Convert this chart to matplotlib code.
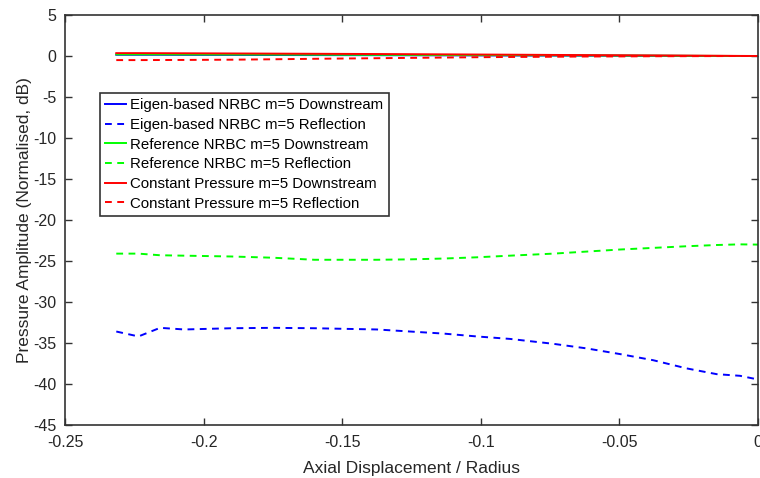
import numpy as np
import matplotlib
matplotlib.use("Agg")
import matplotlib.pyplot as plt

plt.rcParams['font.family'] = ['Liberation Sans', 'DejaVu Sans']
plt.rcParams['axes.unicode_minus'] = False

# axial positions (shared by all series)
x = [-0.2315, -0.2235, -0.2157, -0.207, -0.19, -0.175, -0.16, -0.1375,
     -0.1255, -0.1135, -0.1015, -0.0895, -0.0738, -0.0618, -0.0498,
     -0.0378, -0.0257, -0.0149, -0.0065, 0.0]

eigen_down = [0.15, 0.15, 0.15, 0.14, 0.13, 0.12, 0.11, 0.1, 0.09, 0.08,
              0.07, 0.06, 0.05, 0.04, 0.03, 0.02, 0.01, 0.0, 0.0, 0.0]
eigen_refl = [-33.6, -34.2, -33.15, -33.35, -33.2, -33.15, -33.2, -33.35,
              -33.6, -33.85, -34.2, -34.5, -35.1, -35.66, -36.35, -37.1,
              -38.1, -38.8, -39.0, -39.45]
ref_down = [0.2, 0.2, 0.2, 0.19, 0.18, 0.17, 0.16, 0.14, 0.13, 0.12,
            0.11, 0.1, 0.08, 0.07, 0.05, 0.04, 0.02, 0.01, 0.0, 0.0]
ref_refl = [-24.1, -24.1, -24.3, -24.35, -24.45, -24.6, -24.85, -24.85,
            -24.8, -24.7, -24.55, -24.35, -24.1, -23.85, -23.6, -23.4,
            -23.2, -23.05, -22.97, -23.0]
const_down = [0.35, 0.35, 0.34, 0.33, 0.31, 0.29, 0.27, 0.24, 0.22, 0.2,
              0.18, 0.16, 0.13, 0.11, 0.09, 0.07, 0.05, 0.03, 0.01, 0.0]
const_refl = [-0.5, -0.5, -0.49, -0.48, -0.45, -0.4, -0.34, -0.27, -0.23,
              -0.19, -0.15, -0.12, -0.09, -0.06, -0.05, -0.03, -0.02,
              -0.01, 0.0, 0.0]

labels = ['Eigen-based NRBC m=5 Downstream', 'Eigen-based NRBC m=5 Reflection',
          'Reference NRBC m=5 Downstream', 'Reference NRBC m=5 Reflection',
          'Constant Pressure m=5 Downstream', 'Constant Pressure m=5 Reflection']

fig = plt.figure(figsize=(7.6, 4.78), dpi=100)
ax = fig.add_axes([65/760, 1-425/478, 693/760, 410/478])

lw = 1.4
dash = (3.5, 2.8)
ax.plot(x, eigen_down, color='#0000ff', lw=lw, label=labels[0])
ax.plot(x, eigen_refl, color='#0000ff', lw=lw, dashes=dash, label=labels[1])
ax.plot(x, ref_down, color='#00ff00', lw=lw, label=labels[2])
ax.plot(x, ref_refl, color='#00ff00', lw=lw, dashes=dash, label=labels[3])
ax.plot(x, const_down, color='#ff0000', lw=lw, label=labels[4])
ax.plot(x, const_refl, color='#ff0000', lw=lw, dashes=dash, label=labels[5])

ax.set_xlim(-0.25, 0)
ax.set_ylim(-45, 5)
ax.set_xticks([-0.25, -0.2, -0.15, -0.1, -0.05, 0])
ax.set_xticklabels(['-0.25', '-0.2', '-0.15', '-0.1', '-0.05', '0'])
ax.set_yticks(range(-45, 6, 5))
ax.tick_params(direction='in', top=True, right=True, length=5, width=1,
               labelsize=11.5, color='#333333', labelcolor='#262626')
ax.tick_params(axis='x', pad=7)
ax.tick_params(axis='y', pad=6)
for s in ax.spines.values():
    s.set_color('#333333')
    s.set_linewidth(1.2)

ax.set_xlabel('Axial Displacement / Radius', fontsize=12.5, color='#262626',
              labelpad=8)
ax.set_ylabel('Pressure Amplitude (Normalised, dB)', fontsize=12.5,
              color='#262626', labelpad=1)

leg = ax.legend(loc='upper left', bbox_to_anchor=(0.05, 0.81), borderaxespad=0,
                fontsize=10.8, fancybox=False, framealpha=1, edgecolor='#333333',
                handlelength=1.4, handletextpad=0.3, labelspacing=0.38,
                borderpad=0.35)
leg.get_frame().set_linewidth(1.2)

fig.savefig('out.png', dpi=100)
